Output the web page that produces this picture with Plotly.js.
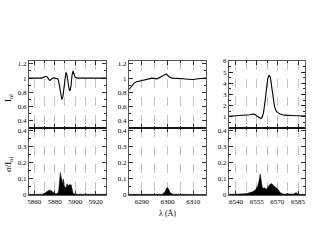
<!DOCTYPE html>
<html><head><meta charset="utf-8">
<script src="https://cdn.plot.ly/plotly-3.0.1.min.js"></script>
<style>html,body{margin:0;padding:0;background:#fff;}#c{width:317px;height:245px;}</style>
</head><body><div id="c"></div>
<script>
// Panel 1: Na D region
const wlNa = [5855,5857,5859,5861,5863,5865,5867,5869,5871,5872,5873,5874,5875,5876,5877,5878,5880,5882,5883,5884,5885,5886,5887,5888,5889,5890,5891,5892,5893,5894,5895,5896,5897,5898,5899,5900,5902,5904,5906,5908,5910,5912,5914,5916,5918,5920,5922,5924,5926,5928,5930];
const iNa  = [1.00,1.00,0.99,1.00,1.00,1.00,1.00,1.01,1.02,1.025,1.01,0.98,0.97,0.975,0.99,1.00,1.00,1.00,0.99,0.95,0.85,0.76,0.70,0.74,0.86,1.00,1.08,1.04,0.93,0.85,0.82,0.90,1.05,1.10,1.05,1.01,1.00,1.00,0.99,1.00,1.00,0.99,1.00,1.00,0.99,1.00,1.00,0.99,1.00,1.00,1.00];
const wlNaS = [5855,5860,5865,5868,5870,5872,5874,5876,5877,5878,5880,5882,5883,5884,5885,5885.5,5886,5887,5888,5888.5,5889,5890,5891,5892,5893,5894,5895,5896,5897,5898,5900,5905,5910,5915,5920,5925,5930];
const sNa  = [0.004,0.003,0.004,0.005,0.01,0.02,0.028,0.03,0.025,0.02,0.01,0.008,0.01,0.03,0.10,0.14,0.12,0.09,0.07,0.10,0.06,0.05,0.04,0.07,0.055,0.065,0.06,0.065,0.03,0.01,0.005,0.004,0.005,0.004,0.005,0.004,0.005];
// Panel 2: [O I] 6300
const wlO = [6285,6286,6287,6288,6289,6290,6292,6294,6296,6297,6298,6299,6299.5,6300,6301,6302,6304,6306,6308,6310,6312,6314,6315];
const iO  = [0.84,0.89,0.93,0.95,0.96,0.97,0.99,1.00,0.99,1.01,1.02,1.05,1.06,1.04,1.01,1.00,1.00,0.99,0.985,0.98,0.99,1.00,1.00];
const wlOS = [6285,6288,6291,6294,6296,6298,6299,6299.5,6300,6300.5,6301,6302,6305,6308,6311,6315];
const sO  = [0.004,0.003,0.004,0.003,0.004,0.005,0.02,0.04,0.046,0.035,0.015,0.005,0.004,0.003,0.004,0.003];
// Panel 3: H alpha
const wlH = [6535,6540,6545,6550,6552.5,6554,6556,6558,6559,6560,6561,6562,6563,6564,6565,6566,6567,6568,6569,6570,6572,6575,6580,6585,6590];
const iH  = [1.05,1.08,1.12,1.18,1.25,1.2,1.0,0.85,0.95,1.4,2.3,3.4,4.4,4.72,4.5,3.6,2.6,1.9,1.55,1.4,1.25,1.15,1.12,1.1,1.08];
const wlHS = [6535,6540,6545,6548,6550,6552,6554,6555,6556,6557,6557.5,6558,6559,6560,6561,6562,6563,6564,6565,6566,6567,6568,6569,6570,6571,6572,6574,6578,6582,6583.5,6585,6590];
const sH  = [0.004,0.004,0.005,0.008,0.015,0.02,0.03,0.045,0.06,0.10,0.13,0.11,0.05,0.04,0.045,0.035,0.05,0.06,0.068,0.07,0.06,0.05,0.045,0.04,0.03,0.015,0.006,0.004,0.006,0.015,0.005,0.004];
const hTicks = [1,2,3,4,5,6];

const W=317,H=245;
const fx=(a,b)=>[a/W,b/W];
const fy=(top,bot)=>[(H-bot)/H,(H-top)/H];
const font={family:'Liberation Serif, Times New Roman, serif',size:7,color:'#000'};
function tr(x,y,xa,ya,fill){
  const t={x:x,y:y,xaxis:xa,yaxis:ya,mode:'lines',line:{color:'#000',width:fill?0.5:1.1},hoverinfo:'skip',showlegend:false};
  if(fill){t.fill='tozeroy';t.fillcolor='#000';}
  return t;
}
const data=[
  tr(wlNa,iNa,'x','y',false), tr(wlNaS,sNa,'x2','y2',true),
  tr(wlO,iO,'x3','y3',false), tr(wlOS,sO,'x4','y4',true),
  tr(wlH,iH,'x5','y5',false), tr(wlHS,sH,'x6','y6',true)
];
function xax(dom,range,t0,dt,labels,anchor){
  return {domain:dom,range:range,anchor:anchor,tick0:t0,dtick:dt,showticklabels:labels,
    ticks:'inside',ticklen:4,tickcolor:'#000',tickwidth:0.8,showline:true,linecolor:'#555',linewidth:1,mirror:'ticks',
    showgrid:true,griddash:'dash',gridcolor:'#aaa',gridwidth:0.7,zeroline:false,tickfont:font,
    minor:{dtick:dt/2,tick0:t0,ticks:'inside',ticklen:2,tickcolor:'#000',showgrid:true,griddash:'dash',gridcolor:'#aaa',gridwidth:0.7}};
}
function yax(dom,range,t0,dt,anchor){
  return {domain:dom,range:range,anchor:anchor,tick0:t0,dtick:dt,ticks:'inside',ticklen:4,tickcolor:'#000',tickwidth:0.8,
    showline:true,linecolor:'#555',linewidth:1,mirror:'ticks',showgrid:false,zeroline:false,tickfont:font,
    minor:{tick0:t0,dtick:dt/2,ticks:'inside',ticklen:2,tickcolor:'#000'}};
}
const up=fy(61,128), lo=fy(128,195);
const d1=fx(29,106), d2=fx(129,206), d3=fx(229,305);
const y5=yax(up,[0,6],0,1,'x5');
y5.tickmode='array'; y5.tickvals=hTicks; y5.ticktext=hTicks.map(String);
y5.minor={tickmode:'linear',tick0:0,dtick:0.5,ticks:'inside',ticklen:2,tickcolor:'#000'};
const lbl={family:font.family,size:9,color:'#000'};
const layout={width:W,height:H,margin:{l:0,r:0,t:0,b:0},paper_bgcolor:'#fff',plot_bgcolor:'#fff',showlegend:false,
  xaxis:xax(d1,[5855,5930],5860,20,false,'y'), yaxis:yax(up,[0.3,1.24],0.4,0.2,'x'),
  xaxis2:xax(d1,[5855,5930],5860,20,true,'y2'), yaxis2:yax(lo,[0,0.417],0,0.1,'x2'),
  xaxis3:xax(d2,[6285,6315],6290,10,false,'y3'), yaxis3:yax(up,[0.3,1.24],0.4,0.2,'x3'),
  xaxis4:xax(d2,[6285,6315],6290,10,true,'y4'), yaxis4:yax(lo,[0,0.417],0,0.1,'x4'),
  xaxis5:xax(d3,[6535,6590],6540,15,false,'y5'), yaxis5:y5,
  xaxis6:xax(d3,[6535,6590],6540,15,true,'y6'), yaxis6:yax(lo,[0,0.417],0,0.1,'x6'),
  shapes:[d1,d2,d3].map(d=>({type:'line',xref:'paper',yref:'paper',x0:d[0],x1:d[1],y0:(H-128)/H,y1:(H-128)/H,line:{color:'#000',width:1.6}})),
  annotations:[
    {xref:'paper',yref:'paper',x:8/W,y:(H-98)/H,xanchor:'center',yanchor:'middle',text:'I<sub>ol</sub>',textangle:-90,showarrow:false,font:lbl},
    {xref:'paper',yref:'paper',x:8/W,y:(H-164)/H,xanchor:'center',yanchor:'middle',text:'σ/I<sub>ol</sub>',textangle:-90,showarrow:false,font:lbl},
    {xref:'paper',yref:'paper',x:167/W,y:(H-213)/H,xanchor:'center',yanchor:'middle',text:'λ (Å)',showarrow:false,font:{family:font.family,size:8,color:'#000'}}
  ]
};
Plotly.newPlot('c',data,layout,{staticPlot:true,displayModeBar:false});
</script></body></html>
